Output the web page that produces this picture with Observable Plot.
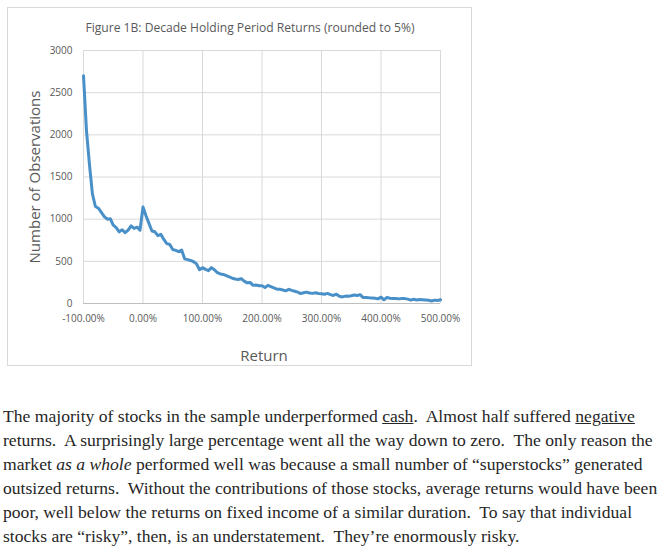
<!DOCTYPE html>
<html>
<head>
<meta charset="utf-8">
<script src="https://cdn.jsdelivr.net/npm/d3@7"></script>
<script src="https://cdn.jsdelivr.net/npm/@observablehq/plot@0.6"></script>
<style>
  html, body { margin: 0; padding: 0; background: #fff; }
  #page { position: relative; width: 666px; height: 552px; overflow: hidden; }
  #box { position: absolute; left: 7px; top: 7px; width: 465px; height: 359px; border: 1px solid #d9d9d9; box-sizing: border-box; }
  #chart { position: absolute; left: 0; top: 0; }
  .lbl { position: absolute; font-family: "Open Sans", sans-serif; color: #595959; white-space: nowrap; }
  #title { left: 250px; top: 27px; font-size: 12.1px; transform: translate(-50%, -50%); }
  #ylabel { left: 34px; top: 177px; font-size: 15px; transform: translate(-50%, -50%) rotate(-90deg); }
  #xlabel { left: 264px; top: 355px; font-size: 15px; transform: translate(-50%, -50%); }
  #text { position: absolute; left: 3px; top: 404px; font-family: "Liberation Serif", serif; font-size: 17.6px; line-height: 24px; color: #262626; white-space: pre; }
</style>
</head>
<body>
<div id="page">
  <div id="box"></div>
  <div id="chart"></div>
  <div class="lbl" id="title">Figure 1B: Decade Holding Period Returns (rounded to 5%)</div>
  <div class="lbl" id="ylabel">Number of Observations</div>
  <div class="lbl" id="xlabel">Return</div>
  <div id="text">The majority of stocks in the sample underperformed <u>cash</u>.  Almost half suffered <u>negative</u>
returns.  A surprisingly large percentage went all the way down to zero.  The only reason the
market <i>as a whole</i> performed well was because a small number of “superstocks” generated
outsized returns.  Without the contributions of those stocks, average returns would have been
poor, well below the returns on fixed income of a similar duration.  To say that individual
stocks are “risky”, then, is an understatement.  They’re enormously risky.</div>
</div>
<script>
// Return bins (%), rounded to 5%
const returnPct = [
  -100, -95, -90, -85, -80, -75, -70, -65, -60, -55,
  -50, -45, -40, -35, -30, -25, -20, -15, -10, -5,
  0, 5, 10, 15, 20, 25, 30, 35, 40, 45,
  50, 55, 60, 65, 70, 75, 80, 85, 90, 95,
  100, 105, 110, 115, 120, 125, 130, 135, 140, 145,
  150, 155, 160, 165, 170, 175, 180, 185, 190, 195,
  200, 205, 210, 215, 220, 225, 230, 235, 240, 245,
  250, 255, 260, 265, 270, 275, 280, 285, 290, 295,
  300, 305, 310, 315, 320, 325, 330, 335, 340, 345,
  350, 355, 360, 365, 370, 375, 380, 385, 390, 395,
  400, 405, 410, 415, 420, 425, 430, 435, 440, 445,
  450, 455, 460, 465, 470, 475, 480, 485, 490, 495,
  500
];
// Number of observations per bin
const observations = [
  2700, 2050, 1650, 1300, 1150, 1130, 1080, 1030, 1000, 1005,
  930, 900, 850, 875, 840, 870, 920, 890, 905, 870,
  1145, 1040, 950, 860, 850, 805, 820, 760, 710, 700,
  640, 630, 615, 635, 530, 520, 510, 495, 470, 400,
  425, 405, 390, 425, 400, 365, 350, 345, 330, 315,
  300, 290, 285, 295, 265, 245, 250, 215, 220, 210,
  210, 190, 215, 200, 185, 170, 168, 160, 150, 168,
  155, 145, 135, 118, 128, 135, 125, 120, 128, 118,
  115, 110, 120, 105, 95, 110, 85, 78, 88, 85,
  92, 100, 95, 105, 70, 72, 68, 65, 62, 55,
  75, 42, 72, 62, 58, 60, 55, 60, 58, 52,
  40, 50, 42, 48, 45, 42, 38, 30, 40, 35,
  45
];
const xTicks = [-100, 0, 100, 200, 300, 400, 500];
const yTicks = [0, 500, 1000, 1500, 2000, 2500, 3000];

const data = returnPct.map((r, i) => ({r, n: observations[i]}));
const fmtPct = d => d.toFixed(2) + "%";

const chart = Plot.plot({
  width: 480,
  height: 370,
  marginLeft: 83,
  marginRight: 40,
  marginTop: 50,
  marginBottom: 67,
  x: {domain: [-100, 500], label: null},
  y: {domain: [0, 3000], label: null},
  style: {fontFamily: "'Open Sans', sans-serif", fontSize: "10px", color: "#595959", background: "transparent"},
  marks: [
    Plot.gridX(xTicks, {stroke: "#d9d9d9", strokeOpacity: 1}),
    Plot.gridY(yTicks, {stroke: "#d9d9d9", strokeOpacity: 1}),
    Plot.ruleY([0], {stroke: "#bfbfbf"}),
    Plot.axisX(xTicks, {tickSize: 0, tickPadding: 11, tickFormat: fmtPct, label: null, fill: "#595959"}),
    Plot.axisY(yTicks, {tickSize: 0, tickPadding: 11, tickFormat: d => String(d), label: null, fill: "#595959"}),
    Plot.line(data, {x: "r", y: "n", stroke: "#4a90c8", strokeWidth: 3, strokeLinejoin: "round", strokeLinecap: "round"})
  ]
});
document.getElementById("chart").appendChild(chart);
</script>
</body>
</html>
